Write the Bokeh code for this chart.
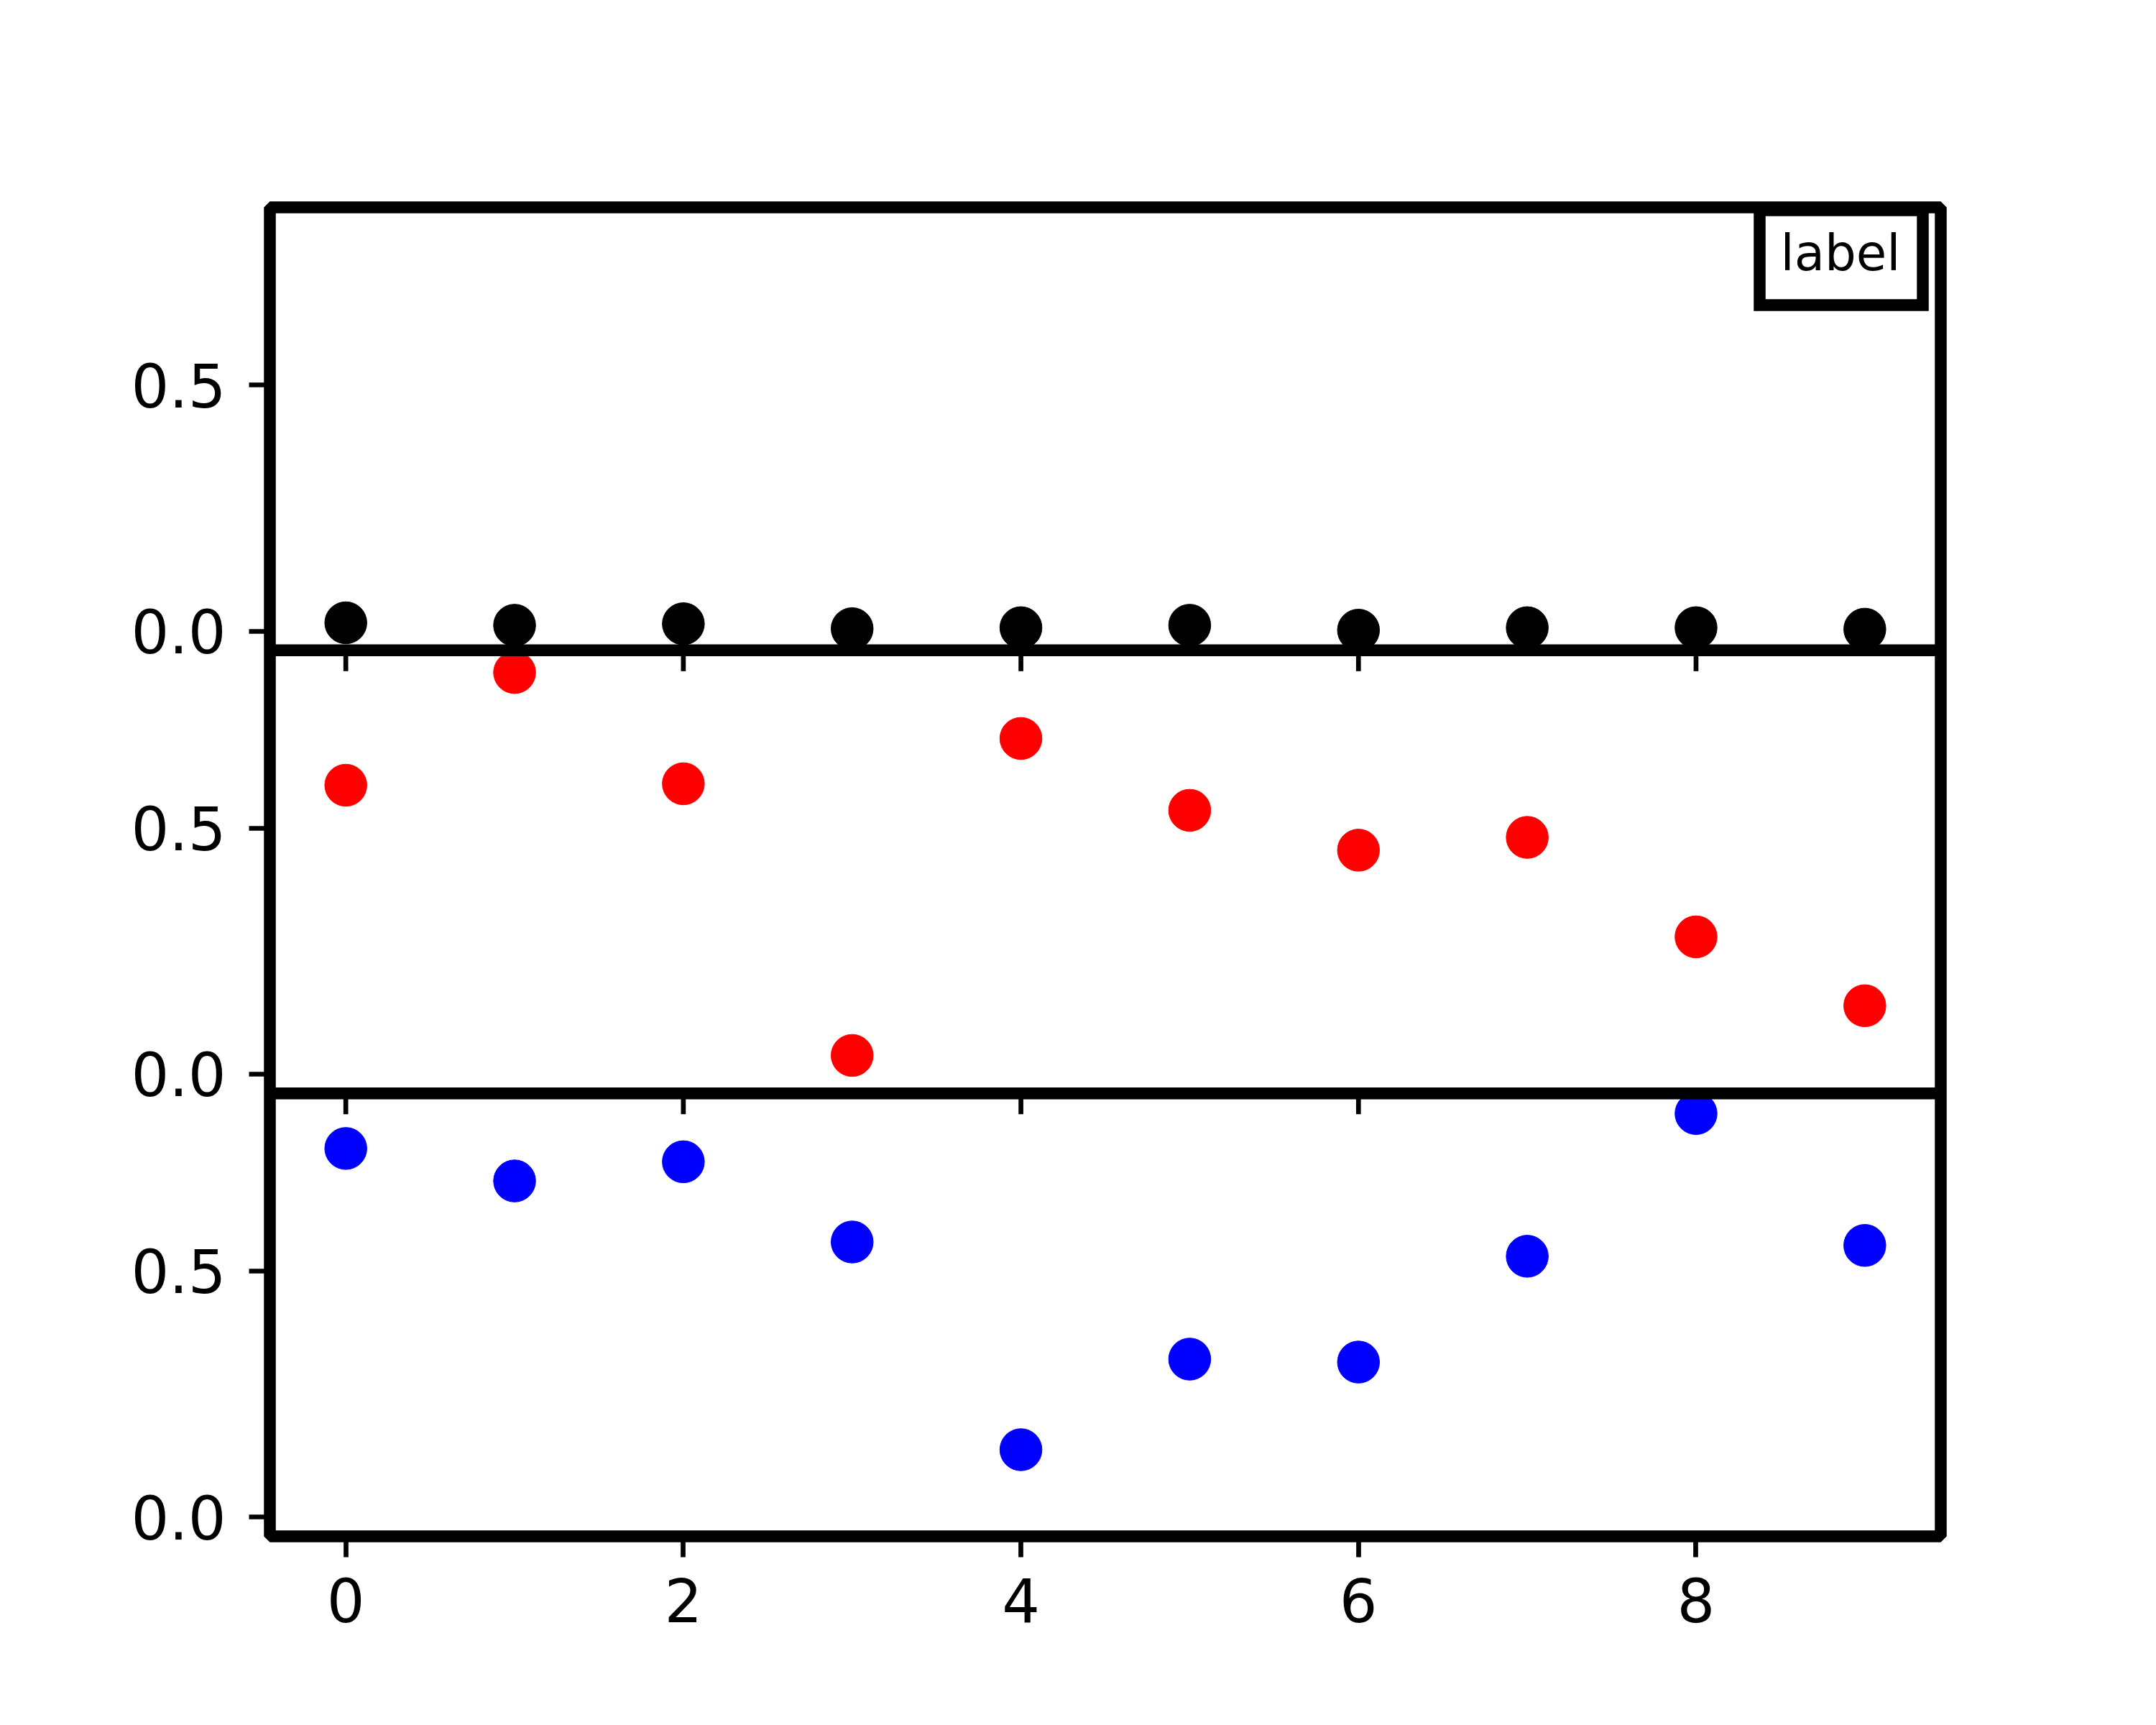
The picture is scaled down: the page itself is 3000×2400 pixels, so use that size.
import numpy as np
from bokeh.plotting import figure
from bokeh.models import Range1d, FixedTicker, Span, BoxAnnotation, Label
from bokeh.embed import file_html
from bokeh.resources import INLINE

# ---- data ----
x_values = [0, 1, 2, 3, 4, 5, 6, 7, 8, 9]
black_values = [0.017, 0.012, 0.015, 0.005, 0.007, 0.012, 0.002, 0.007, 0.007, 0.004]
red_values = [0.587, 0.816, 0.590, 0.038, 0.682, 0.536, 0.455, 0.481, 0.279, 0.139]
blue_values = [0.749, 0.683, 0.722, 0.559, 0.137, 0.321, 0.315, 0.530, 0.820, 0.552]
x_ticks = [0, 2, 4, 6, 8]
y_ticks = [0.0, 0.5]
legend_label = "label"

# ---- axis limits (shared by the three stacked panels) ----
X_LO, X_HI = -0.45, 9.45
Y_LO, Y_HI = -0.039, 0.861
SPAN = Y_HI - Y_LO

# ---- layout / style ----
FRAME_W, FRAME_H = 2325, 1849
FONT = "DejaVu Sans"
TICK_FONT_SIZE = "83px"
LEGEND_FONT_SIZE = "69px"
SPINE_W = 16.5
TICK_W = 6.7
TICK_LEN = 29
MARKER_SIZE = 58.5

p = figure(
    frame_width=FRAME_W, frame_height=FRAME_H,
    min_border_left=375, min_border_right=296,
    min_border_top=288, min_border_bottom=259,
    x_range=Range1d(X_LO, X_HI),
    y_range=Range1d(Y_LO, Y_LO + 3 * SPAN),   # bottom panel
    output_backend="svg", toolbar_location=None,
)
p.extra_y_ranges = {
    "mid": Range1d(Y_LO - SPAN, Y_HI + SPAN),
    "top": Range1d(Y_LO - 2 * SPAN, Y_HI),
}

p.background_fill_color = "white"
p.border_fill_color = "white"
p.xgrid.visible = False
p.ygrid.visible = False
p.outline_line_color = "black"
p.outline_line_width = SPINE_W
p.outline_line_alpha = 1.0

# ---- y axis: ticks of the three panels ----
tick_pos = []
overrides = {}
for k in range(3):
    for t in y_ticks:
        pos = t + k * SPAN
        tick_pos.append(pos)
        overrides[pos] = f"{t:.1f}"
ya = p.yaxis[0]
ya.ticker = FixedTicker(ticks=tick_pos)
ya.major_label_overrides = overrides
ya.axis_line_color = None
ya.major_tick_out = TICK_LEN
ya.major_tick_in = 0
ya.major_tick_line_width = TICK_W
ya.major_tick_line_color = "black"
ya.minor_tick_line_color = None
ya.major_label_text_font = FONT
ya.major_label_text_font_size = TICK_FONT_SIZE
ya.major_label_text_color = "black"
ya.major_label_standoff = 32

xa = p.xaxis[0]
xa.ticker = FixedTicker(ticks=x_ticks)
xa.axis_line_color = None
xa.major_tick_out = TICK_LEN
xa.major_tick_in = 0
xa.major_tick_line_width = TICK_W
xa.major_tick_line_color = "black"
xa.minor_tick_line_color = None
xa.major_label_text_font = FONT
xa.major_label_text_font_size = TICK_FONT_SIZE
xa.major_label_text_color = "black"
xa.major_label_standoff = 28

# ---- x ticks at the bottom edge of the upper panels ----
for name in ("top", "mid"):
    p.ray(x=x_ticks, y=[Y_LO] * len(x_ticks), length=TICK_LEN, length_units="screen",
          angle=-np.pi / 2, line_color="black", line_width=TICK_W, y_range_name=name)

# ---- points ----
p.scatter(x_values, black_values, size=MARKER_SIZE, color="black", y_range_name="top")
p.scatter(x_values, red_values, size=MARKER_SIZE, color="red", y_range_name="mid")
p.scatter(x_values, blue_values, size=MARKER_SIZE, color="blue")

# ---- panel separators (bottom spine of the upper panels) ----
for name in ("top", "mid"):
    p.add_layout(Span(location=Y_LO, dimension="width", y_range_name=name,
                      line_color="black", line_width=SPINE_W))

# ---- legend box in the top-right corner of the top panel ----
XPX = (X_HI - X_LO) / FRAME_W          # data units per pixel (x)
YPX = 3 * SPAN / FRAME_H               # data units per pixel (y)
box = BoxAnnotation(
    left=X_HI - 252 * XPX, right=X_HI - 25 * XPX,
    top=Y_HI - 4 * YPX, bottom=Y_HI - 136 * YPX,
    y_range_name="top",
    fill_color="white", fill_alpha=1.0,
    line_color="black", line_width=SPINE_W, line_alpha=1.0, line_join="miter",
)
p.add_layout(box)
p.add_layout(Label(
    x=X_HI - 139.5 * XPX, y=Y_HI - 63.5 * YPX, y_range_name="top",
    text=legend_label, text_align="center", text_baseline="alphabetic",
    text_font=FONT, text_font_size=LEGEND_FONT_SIZE, text_color="black",
))

open("out.html", "w").write(file_html(p, INLINE))
